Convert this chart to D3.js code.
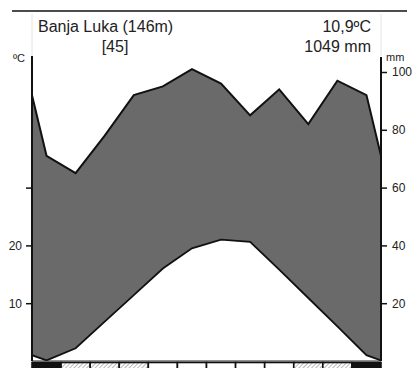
<!DOCTYPE html>
<html>
<head>
<meta charset="utf-8">
<script src="https://cdn.jsdelivr.net/npm/d3@7"></script>
<style>
html,body{margin:0;padding:0;background:#fff;}
svg{display:block;font-family:"Liberation Sans",Arial,sans-serif;}
</style>
</head>
<body>
<svg id="chart" width="414" height="368"></svg>
<script>
const months = ["Jan","Feb","Mar","Apr","May","Jun","Jul","Aug","Sep","Oct","Nov","Dec"];
const precipitation = [71, 65, 78, 92, 95, 101, 96, 85, 94, 82, 97, 92];
const temperature = [0.1, 2.2, 6.8, 11.4, 16.0, 19.5, 21.0, 20.6, 15.8, 10.9, 6.0, 1.0];
// frost: 2 = sure frost (black), 1 = probable frost (hatched), 0 = none
const frost = [2, 1, 1, 1, 0, 0, 0, 0, 0, 1, 1, 2];
const tempTicks = [10, 20, 30];
const tempTickLabels = ["10", "20", ""];
const precipTicks = [20, 40, 60, 80, 100];
const precipTickLabels = ["20", "40", "60", "80", "100"];
const station = "Banja Luka (146m)";
const years = "[45]";
const meanTemp = "10,9ºC";
const totalPrecip = "1049 mm";

(function () {
const svg = d3.select("#chart");
const L = 32, R = 381, B = 361, T = 56;

const x = d3.scaleLinear().domain([0, 12]).range([L, R]);
const yP = d3.scaleLinear().domain([0, 100]).range([B, 72]);
const yT = d3.scaleLinear().domain([0, 50]).range([B, 72]); // 10°C = 20 mm

const defs = svg.append("defs");
const pat = defs.append("pattern").attr("id", "hatch").attr("patternUnits", "userSpaceOnUse")
  .attr("width", 3).attr("height", 3).attr("patternTransform", "rotate(45)");
pat.append("rect").attr("width", 3).attr("height", 3).attr("fill", "#fff");
pat.append("line").attr("x1", 0).attr("y1", 0).attr("x2", 0).attr("y2", 3)
  .attr("stroke", "#8a8a8a").attr("stroke-width", 1.2);
defs.append("clipPath").attr("id", "clip").append("rect")
  .attr("x", L).attr("y", 0).attr("width", R - L).attr("height", B);

// left edge uses Dec value, right edge uses Jan value
const pts = [{x: 0, p: precipitation[11], t: temperature[11]}]
  .concat(months.map((m, i) => ({x: i + 0.5, p: precipitation[i], t: temperature[i]})))
  .concat([{x: 12, p: precipitation[0], t: temperature[0]}]);

svg.append("line").attr("x1", 12).attr("x2", 407).attr("y1", 11).attr("y2", 11)
  .attr("stroke", "#111").attr("stroke-width", 1.6);
[L, R].forEach(v => svg.append("line").attr("x1", v).attr("x2", v).attr("y1", 14).attr("y2", T)
  .attr("stroke", "#e4e4e4").attr("stroke-width", 1));

const g = svg.append("g").attr("clip-path", "url(#clip)");

g.append("path").datum(pts)
  .attr("d", d3.area().x(d => x(d.x)).y0(d => yT(d.t)).y1(d => yP(d.p)))
  .attr("fill", "#6a6a6a");
g.append("path").datum(pts)
  .attr("d", d3.line().x(d => x(d.x)).y(d => yP(d.p)))
  .attr("fill", "none").attr("stroke", "#111").attr("stroke-width", 2);
g.append("path").datum(pts)
  .attr("d", d3.line().x(d => x(d.x)).y(d => yT(d.t)))
  .attr("fill", "none").attr("stroke", "#111").attr("stroke-width", 1.8);

svg.append("line").attr("x1", L).attr("x2", R).attr("y1", B).attr("y2", B)
  .attr("stroke", "#222").attr("stroke-width", 1);
svg.selectAll("rect.frost").data(frost).enter().append("rect").attr("class", "frost")
  .attr("x", (d, i) => x(i)).attr("y", B + 1.5)
  .attr("width", (d, i) => x(i + 1) - x(i)).attr("height", 10)
  .attr("fill", d => d === 2 ? "#111" : d === 1 ? "url(#hatch)" : "#fff")
  .attr("stroke", "#111").attr("stroke-width", 1.6);

const leftAxis = d3.axisLeft(yT).tickValues(tempTicks).tickSize(6).tickPadding(4)
  .tickFormat((d, i) => tempTickLabels[i]);
const gl = svg.append("g").attr("transform", `translate(${L},0)`).call(leftAxis);
gl.select(".domain").remove();
gl.selectAll(".tick line").attr("stroke", "#111").attr("stroke-width", 1.5);
gl.selectAll(".tick text").attr("font-size", 12).attr("fill", "#222")
  .attr("font-family", "'Liberation Sans',Arial,sans-serif");
svg.append("line").attr("x1", L).attr("x2", L).attr("y1", T).attr("y2", B)
  .attr("stroke", "#111").attr("stroke-width", 2);

const rightAxis = d3.axisRight(yP).tickValues(precipTicks).tickSize(6).tickPadding(5)
  .tickFormat((d, i) => precipTickLabels[i]);
const gr = svg.append("g").attr("transform", `translate(${R},0)`).call(rightAxis);
gr.select(".domain").remove();
gr.selectAll(".tick line").attr("stroke", "#111").attr("stroke-width", 1.5);
gr.selectAll(".tick text").attr("font-size", 12).attr("fill", "#222")
  .attr("font-family", "'Liberation Sans',Arial,sans-serif");
svg.append("line").attr("x1", R).attr("x2", R).attr("y1", T + 1).attr("y2", B)
  .attr("stroke", "#111").attr("stroke-width", 2);

svg.append("text").attr("x", 25).attr("y", 62).attr("text-anchor", "end")
  .attr("font-size", 11).attr("fill", "#222").text("ºC");
svg.append("text").attr("x", 386).attr("y", 61)
  .attr("font-size", 11).attr("fill", "#222").text("mm");

svg.append("text").attr("x", 38).attr("y", 32).attr("font-size", 16).attr("fill", "#222").text(station);
svg.append("text").attr("x", 115).attr("y", 52).attr("text-anchor", "middle").attr("font-size", 16).attr("fill", "#222").text(years);
svg.append("text").attr("x", 371).attr("y", 32).attr("text-anchor", "end").attr("font-size", 16).attr("fill", "#222").text(meanTemp);
svg.append("text").attr("x", 371).attr("y", 52).attr("text-anchor", "end").attr("font-size", 16).attr("fill", "#222").text(totalPrecip);
})();
</script>
</body>
</html>
